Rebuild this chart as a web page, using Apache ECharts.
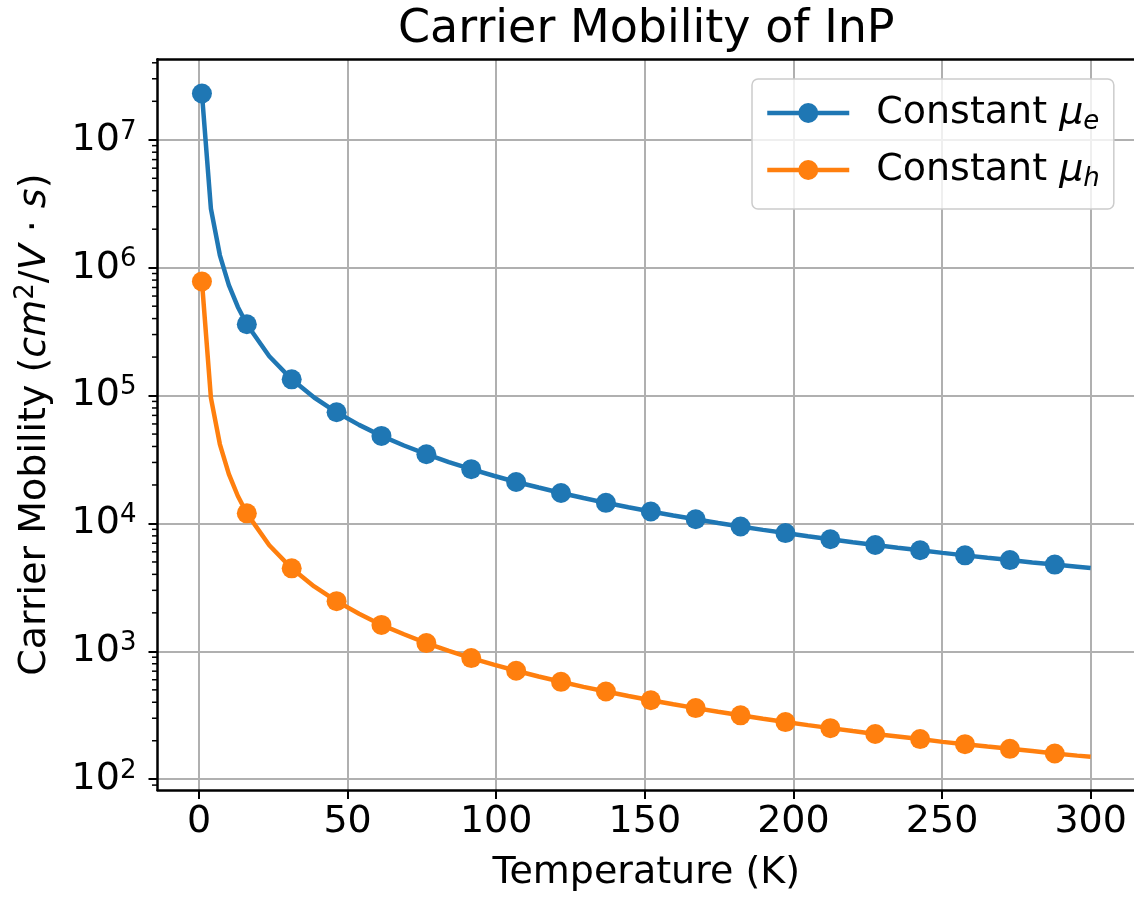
<!DOCTYPE html>
<html>
<head>
<meta charset="utf-8">
<script src="https://cdn.jsdelivr.net/npm/echarts@6/dist/echarts.min.js"></script>
<style>
  html, body { margin: 0; padding: 0; background: #ffffff; }
  #chart { width: 1134px; height: 898px; }
</style>
</head>
<body>
<div id="chart"></div>
<script>
// Temperature samples (K) along the curves
const temperature = [
  1, 4.02, 7.04, 10.06, 13.08, 16.10, 23.65, 31.20, 38.75, 46.30, 53.85, 61.40,
  68.96, 76.51, 84.06, 91.61, 99.16, 106.71, 114.26, 121.81, 129.36, 136.91,
  144.46, 152.01, 159.57, 167.11, 174.67, 182.21, 189.77, 197.32, 204.87,
  212.42, 219.97, 227.52, 235.07, 242.62, 250.17, 257.72, 265.27, 272.82,
  280.37, 287.92, 295.47, 300
];

// Electron mobility (cm^2/V·s)
const muE = [
  2.30e7, 2.89e6, 1.25e6, 7.30e5, 4.93e5, 3.61e5, 2.03e5, 1.34e5, 9.66e4,
  7.40e4, 5.90e4, 4.84e4, 4.07e4, 3.48e4, 3.02e4, 2.66e4, 2.36e4, 2.11e4,
  1.91e4, 1.73e4, 1.58e4, 1.45e4, 1.34e4, 1.24e4, 1.156e4, 1.079e4, 1.009e4,
  9470, 8910, 8410, 7950, 7530, 7140, 6790, 6460, 6170, 5890, 5630, 5390,
  5170, 4960, 4770, 4590, 4480
];

// Hole mobility (cm^2/V·s)
const muH = [
  7.80e5, 9.60e4, 4.16e4, 2.43e4, 1.64e4, 1.20e4, 6750, 4460, 3220, 2470,
  1970, 1610, 1360, 1160, 1010, 886, 787, 705, 636, 578, 528, 485, 448, 415,
  386, 360, 337, 316, 297, 280, 265, 251, 238, 226, 216, 206, 196, 188, 180,
  173, 166, 159, 153, 150
];

// Temperatures that carry a circle marker
const markerTemps = [
  1, 16.10, 31.20, 46.30, 61.40, 76.51, 91.61, 106.71, 121.81, 136.91,
  152.01, 167.11, 182.21, 197.32, 212.42, 227.52, 242.62, 257.72, 272.82, 287.92
];

// Axis ranges and tick positions
const xRange = [-13.95, 314.95];
const yRange = [82.4, 4.26e7];
const xTicks = [0, 50, 100, 150, 200, 250, 300];
const yTicks = [1e2, 1e3, 1e4, 1e5, 1e6, 1e7];

// Minor tick positions on the log axis
const minorTicks = [
  90,
  200, 300, 400, 500, 600, 700, 800, 900,
  2000, 3000, 4000, 5000, 6000, 7000, 8000, 9000,
  2e4, 3e4, 4e4, 5e4, 6e4, 7e4, 8e4, 9e4,
  2e5, 3e5, 4e5, 5e5, 6e5, 7e5, 8e5, 9e5,
  2e6, 3e6, 4e6, 5e6, 6e6, 7e6, 8e6, 9e6,
  2e7, 3e7, 4e7
];

const FONT = 'DejaVu Sans';
const BLUE = '#1f77b4';
const ORANGE = '#ff7f0e';

function curveSeries(name, values, color) {
  return {
    name: name,
    type: 'line',
    symbol: 'circle',
    symbolSize: 20,
    showSymbol: true,
    showAllSymbol: true,
    lineStyle: { width: 4.5, color: color },
    itemStyle: { color: color },
    emphasis: { disabled: true },
    data: temperature.map((t, i) => ({
      value: [t, values[i]],
      symbol: markerTemps.includes(t) ? 'circle' : 'none'
    })),
    z: 3
  };
}

const chart = echarts.init(document.getElementById('chart'), null, { renderer: 'canvas' });

chart.setOption({
  animation: false,
  backgroundColor: '#ffffff',
  title: {
    text: 'Carrier Mobility of InP',
    left: 393,
    top: 2,
    textStyle: { fontFamily: FONT, fontSize: 46, fontWeight: 'normal', color: '#000' }
  },
  grid: {
    left: 157.5,
    top: 59.3,
    width: 977.6,
    height: 730.7,
    containLabel: false,
    outerBoundsMode: 'none',
    show: false
  },
  legend: {
    data: ['Constant μe', 'Constant μh'],
    orient: 'vertical',
    left: 752,
    top: 79,
    itemWidth: 82,
    itemHeight: 25,
    itemGap: 16,
    padding: [15, 14, 17, 13],
    backgroundColor: 'rgba(255,255,255,0.8)',
    borderColor: '#cccccc',
    borderWidth: 1.5,
    borderRadius: 6,
    selectedMode: false,
    lineStyle: { width: 4.5 },
    formatter: name => '{t|Constant }{m|μ}{s|' + name.slice(-1) + '}',
    textStyle: {
      fontFamily: FONT,
      color: '#000',
      rich: {
        t: { fontFamily: FONT, fontSize: 38, lineHeight: 44, padding: [0, 0, 0, 22], color: '#000' },
        m: { fontFamily: FONT, fontSize: 38, lineHeight: 44, fontStyle: 'italic', color: '#000' },
        s: { fontFamily: FONT, fontSize: 26, lineHeight: 22, fontStyle: 'italic', verticalAlign: 'bottom', color: '#000' }
      }
    }
  },
  xAxis: [
    {
      type: 'value',
      position: 'bottom',
      min: xRange[0],
      max: xRange[1],
      name: 'Temperature (K)',
      nameLocation: 'middle',
      nameGap: 64,
      nameTextStyle: { fontFamily: FONT, fontSize: 38, color: '#000' },
      axisLine: { show: true, onZero: false, lineStyle: { color: '#000', width: 2.5 } },
      axisTick: { show: true, length: 9, customValues: xTicks, lineStyle: { color: '#000', width: 2 } },
      axisLabel: {
        margin: 13,
        fontFamily: FONT,
        fontSize: 38,
        color: '#000',
        customValues: xTicks,
        formatter: v => String(Math.round(v))
      },
      splitLine: { show: true, lineStyle: { color: '#b0b0b0', width: 2 } }
    },
    {
      // top spine
      type: 'value',
      position: 'top',
      min: xRange[0],
      max: xRange[1],
      axisLine: { show: true, onZero: false, lineStyle: { color: '#000', width: 2.5 } },
      axisTick: { show: false },
      axisLabel: { show: false },
      splitLine: { show: false }
    }
  ],
  yAxis: {
    type: 'log',
    logBase: 10,
    min: yRange[0],
    max: yRange[1],
    name: '{t|Carrier Mobility (}{i|cm}{p|2}{t|/}{i|V}{t| · }{i|s}{t|)}',
    nameLocation: 'middle',
    nameRotate: 90,
    nameGap: 100,
    nameTextStyle: {
      fontFamily: FONT,
      color: '#000',
      rich: {
        t: { fontFamily: FONT, fontSize: 38, lineHeight: 44, color: '#000' },
        i: { fontFamily: FONT, fontSize: 38, lineHeight: 44, fontStyle: 'italic', color: '#000' },
        p: { fontFamily: FONT, fontSize: 26, lineHeight: 22, verticalAlign: 'top', color: '#000' }
      }
    },
    axisLine: { show: true, onZero: false, lineStyle: { color: '#000', width: 2.5 } },
    axisTick: { show: true, length: 9, customValues: yTicks, lineStyle: { color: '#000', width: 2 } },
    axisLabel: {
      margin: 21,
      fontFamily: FONT,
      color: '#000',
      customValues: yTicks,
      formatter: v => '{b|10}{p|' + Math.round(Math.log10(v)) + '}',
      rich: {
        b: { fontFamily: FONT, fontSize: 38, lineHeight: 42, color: '#000' },
        p: { fontFamily: FONT, fontSize: 26, lineHeight: 22, verticalAlign: 'top', color: '#000' }
      }
    },
    splitLine: { show: true, lineStyle: { color: '#b0b0b0', width: 2 } }
  },
  series: [
    curveSeries('Constant μe', muE, BLUE),
    curveSeries('Constant μh', muH, ORANGE),
    {
      // short minor ticks along the left spine of the log axis
      name: 'minor-ticks',
      type: 'custom',
      silent: true,
      clip: false,
      z: 5,
      data: minorTicks.map(v => [xRange[0], v]),
      renderItem: (params, api) => {
        const p = api.coord([api.value(0), api.value(1)]);
        return {
          type: 'line',
          shape: { x1: p[0] - 5.5, y1: p[1], x2: p[0], y2: p[1] },
          style: { stroke: '#000', lineWidth: 1.5 }
        };
      }
    }
  ]
});
</script>
</body>
</html>
